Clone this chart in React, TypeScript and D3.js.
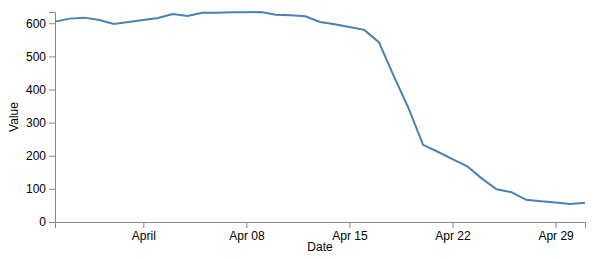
import React, { useEffect, useRef } from "react";
import * as d3 from "d3";

const startDate = [2018, 2, 26];
const dayOffsets = [
  0, 1, 2, 3, 4, 5, 6, 7, 8, 9, 10, 11, 12, 13, 14, 15, 16, 17, 18,
  19, 20, 21, 22, 23, 24, 25, 26, 27, 28, 29, 30, 31, 32, 33, 34, 35, 36,
];
const values = [
  605, 614, 617, 610, 598, 604, 610, 616, 628, 622, 632, 632, 633, 633, 634,
  626, 624, 621, 604, 597, 589, 580, 543, 442, 345, 233, 212, 190, 168, 131,
  99, 90, 67, 63, 59, 54, 58,
];
const yTickValues = [0, 100, 200, 300, 400, 500, 600];
const xLabel = "Date";
const yLabel = "Value";

const W = 595;
const H = 259;
const margin = { top: 12, right: 10, bottom: 37, left: 55 };

export default function App() {
  const ref = useRef<SVGSVGElement>(null);
  useEffect(() => {
    const svg = d3.select(ref.current);
    svg.selectAll("*").remove();
    const data = dayOffsets.map((d, i) => ({
      date: new Date(startDate[0], startDate[1], startDate[2] + d),
      value: values[i],
    }));
    const w = W - margin.left - margin.right;
    const h = H - margin.top - margin.bottom;
    const x = d3
      .scaleTime()
      .domain(d3.extent(data, (d) => d.date) as [Date, Date])
      .range([0, w]);
    const y = d3
      .scaleLinear()
      .domain([0, d3.max(data, (d) => d.value) as number])
      .range([h, 0]);
    const g = svg
      .append("g")
      .attr("transform", `translate(${margin.left},${margin.top})`);

    const xAxis = g
      .append("g")
      .attr("transform", `translate(0,${h})`)
      .call(d3.axisBottom(x).ticks(5));
    const yAxis = g.append("g").call(d3.axisLeft(y).tickValues(yTickValues));
    [xAxis, yAxis].forEach((a) => {
      a.attr("font-family", "Liberation Sans, Arial, sans-serif").attr("font-size", 12);
      a.selectAll("path,line").attr("stroke", "#888");
      a.selectAll("text").attr("fill", "#000");
    });

    g.append("path")
      .datum(data)
      .attr("fill", "none")
      .attr("stroke", "steelblue")
      .attr("stroke-width", 2)
      .attr(
        "d",
        d3
          .line<{ date: Date; value: number }>()
          .x((d) => x(d.date))
          .y((d) => y(d.value))
      );

    svg
      .append("text")
      .attr("x", margin.left + w / 2)
      .attr("y", 251)
      .attr("text-anchor", "middle")
      .attr("font-family", "Liberation Sans, Arial, sans-serif")
      .attr("font-size", 12)
      .text(xLabel);
    svg
      .append("text")
      .attr("transform", "rotate(-90)")
      .attr("x", -(margin.top + h / 2))
      .attr("y", 18)
      .attr("text-anchor", "middle")
      .attr("font-family", "Liberation Sans, Arial, sans-serif")
      .attr("font-size", 12)
      .text(yLabel);
  }, []);
  return (
    <svg
      ref={ref}
      width={W}
      height={H}
      style={{ position: "absolute", left: 0, top: 0, background: "#fff" }}
    />
  );
}
